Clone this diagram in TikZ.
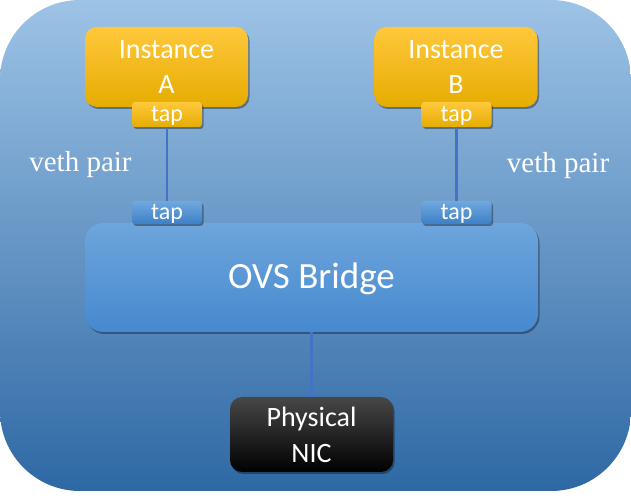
\documentclass[tikz,border=0pt]{standalone}
\usepackage{fontspec}
\setmainfont{Liberation Serif}
\newfontfamily\calibri{Carlito}
\usetikzlibrary{shadows}
\definecolor{bgtop}{RGB}{157,195,230}
\definecolor{bgmid}{RGB}{96,152,208}
\definecolor{bgbot}{RGB}{46,104,164}
\definecolor{ytop}{RGB}{255,200,60}
\definecolor{ymid}{RGB}{255,192,0}
\definecolor{ybot}{RGB}{229,172,0}
\definecolor{btop}{RGB}{112,168,223}
\definecolor{bbot}{RGB}{60,128,198}
\definecolor{otop}{RGB}{110,165,220}
\definecolor{obot}{RGB}{70,137,206}
\definecolor{linkblue}{RGB}{68,114,196}
\tikzset{
  outerbox/.style={rounded corners=80pt, minimum width=631pt, minimum height=491pt, inner sep=0pt,
    top color=bgtop, middle color=bgmid, bottom color=bgbot},
  boxshadow/.style={drop shadow={shadow xshift=1.5pt, shadow yshift=-2pt, opacity=0.35, fill=black}},
  instbox/.style={boxshadow, rounded corners=12pt, minimum width=163pt, minimum height=80pt, inner sep=0pt,
    top color=ytop, middle color=ymid, bottom color=ybot, text=white, align=center,
    font=\calibri\fontsize{28}{35}\selectfont},
  taptop/.style={boxshadow, rounded corners=3pt, minimum width=70pt, minimum height=25pt, inner sep=0pt,
    top color=ytop, bottom color=ybot, text=white, text height=15pt, text depth=0pt,
    font=\calibri\fontsize{24}{28}\selectfont},
  taplow/.style={boxshadow, rounded corners=3pt, minimum width=70pt, minimum height=23pt, inner sep=0pt,
    top color=btop, bottom color=bbot, text=white, text height=15pt, text depth=0pt,
    font=\calibri\fontsize{24}{28}\selectfont},
  ovsbox/.style={boxshadow, rounded corners=18pt, minimum width=453pt, minimum height=109pt, inner sep=0pt,
    top color=otop, bottom color=obot, text=white, text height=23pt, text depth=0pt,
    font=\calibri\fontsize{37}{44}\selectfont},
  nicbox/.style={boxshadow, rounded corners=12pt, minimum width=163pt, minimum height=75pt, inner sep=0pt,
    top color=black!72, middle color=black, bottom color=black, text=white, align=center,
    font=\calibri\fontsize{28}{36}\selectfont},
  vethlabel/.style={text=white, font=\fontsize{29}{34}\selectfont, inner sep=0pt},
  link/.style={draw=linkblue, line width=2.6pt}
}
\begin{document}
\begin{tikzpicture}[x=1pt,y=1pt]
\useasboundingbox (0,0) rectangle (631,500);
\node[outerbox] (bg) at (315.5,254.5) {};
\node[instbox] (instA) at (166.5,433) {Instance\\A};
\node[instbox] (instB) at (456,433) {Instance\\B};
\node[taptop] (tapA) at (167,385.5) {tap};
\node[taptop] (tapB) at (456.5,385.5) {tap};
\node[ovsbox] (ovs) at (311.5,222.5) {OVS Bridge};
\node[taplow] (tapAl) at (167,287.5) {tap};
\node[taplow] (tapBl) at (456.5,287.5) {tap};
\node[nicbox] (nic) at (311.5,65.5) {Physical\\NIC};
\draw[link] (tapA.south) -- (tapAl.north);
\draw[link] (tapB.south) -- (tapBl.north);
\draw[link] (ovs.south) -- (nic.north);
\node[vethlabel] (vethA) at (80.5,335) {veth pair};
\node[vethlabel] (vethB) at (558,334) {veth pair};
\end{tikzpicture}
\end{document}
